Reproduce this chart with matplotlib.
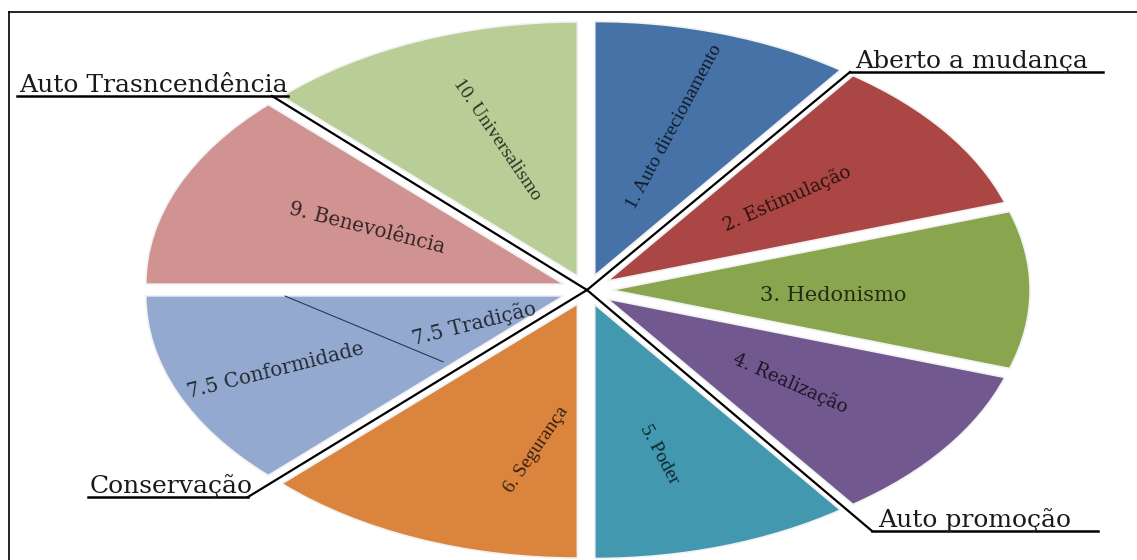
import numpy as np
import matplotlib.pyplot as plt
from matplotlib.colors import to_rgb

# slices, clockwise from 12 o'clock
labels = ["1. Auto direcionamento", "2. Estimulação", "3. Hedonismo",
          "4. Realização", "5. Poder", "6. Segurança", "7.5 Conformidade",
          "9. Benevolência", "10. Universalismo"]
shares = [36, 36, 36, 36, 36, 45, 45, 45, 45]  # degrees of the circle
colors = ["#4672A8", "#AA4643", "#89A54E", "#71588F", "#4198AF",
          "#DB843D", "#93A9CF", "#D19392", "#B9CD96"]
inner_label = "7.5 Tradição"  # inner part of the 7.5 slice

groups = ["Auto Trasncendência", "Aberto a mudança", "Conservação", "Auto promoção"]

W, H = 1137, 560
cx, cy = 587, 290      # pie centre, image pixels (y down)
rx, ry = 418, 254      # ellipse radii in pixels
k = ry / rx            # tilt of the pie

# label placement: (radius fraction, angle deg)
label_pos = [(0.675, 72), (0.60, 37), (0.59, -2), (0.61, -37), (0.67, -75),
             (0.64, -101), (0.81, -157), (0.58, 155), (0.63, 110)]
inner_pos = (0.30, -154)

# quadrant labels: text x, underline y, underline start, underline end, connector end
group_pos = [(19, 96, 17, 288, 272), (855, 72, 850, 1103, 850),
             (90, 497, 88, 248, 248), (878, 531, 872, 1098, 872)]


def dark(c, f=0.25):
    return tuple(v * f for v in to_rgb(c))


def tilt(mid):
    # screen angle and shrink of a radial text lying in the tilted pie plane
    t = np.deg2rad(mid)
    rot = np.degrees(np.arctan(k * np.tan(t)))
    shrink = np.sqrt(np.cos(t) ** 2 + (k * np.sin(t)) ** 2)
    return rot, shrink


def slice_text(x, y, s, mid, col):
    rot, shrink = tilt(mid)
    if shrink < 0.8:
        # steep labels look squeezed in the tilted pie: narrower face
        fam, fs = "Liberation Serif", 14
    else:
        fam, fs = "DejaVu Serif", 15 * shrink
    ax.text(x, y, s, rotation=rot, rotation_mode="anchor", ha="center",
            va="center", fontsize=fs, family=fam, color=dark(col))


fig = plt.figure(figsize=(W / 100, H / 100), dpi=100)

lim = 1.2
ax = fig.add_axes([(cx - lim * rx) / W, (H - cy - lim * ry) / H,
                   2 * lim * rx / W, 2 * lim * ry / H])
wedges, _ = ax.pie(shares, colors=colors, startangle=90, counterclock=False,
                   explode=[0.06] * len(shares),
                   wedgeprops=dict(edgecolor="#f2f2f2", linewidth=1.2))
ax.set_aspect("auto")
ax.set_xlim(-lim, lim)
ax.set_ylim(-lim, lim)
ax.axis("off")

for w, lab, col, (r, a) in zip(wedges, labels, colors, label_pos):
    t = np.deg2rad(a)
    slice_text(r * np.cos(t), r * np.sin(t), lab, (w.theta1 + w.theta2) / 2, col)

w = wedges[6]
r, a = inner_pos
t = np.deg2rad(a)
slice_text(r * np.cos(t), r * np.sin(t), inner_label, (w.theta1 + w.theta2) / 2,
           colors[6])

# thin split line inside the 7.5 slice
p1 = (-0.722, -0.024)
p2 = (-0.344, -0.283)
ax.plot([p1[0], p2[0]], [p1[1], p2[1]], color="#2b3a55", lw=0.8)

# overlay in pixel coordinates
ov = fig.add_axes([0, 0, 1, 1], facecolor="none")
ov.set_xlim(0, W)
ov.set_ylim(H, 0)
ov.axis("off")

# frame
ov.plot([9, W], [12, 12], color="black", lw=1.2)
ov.plot([9, 9], [12, H], color="black", lw=1.2)

for name, (tx, uy, u0, u1, ce) in zip(groups, group_pos):
    ov.text(tx, uy - 4, name, ha="left", va="baseline", fontsize=18,
            family="DejaVu Serif", color="#1a1a1a")
    ov.plot([u0, u1], [uy, uy], color="black", lw=1.8)
    ov.plot([ce, cx], [uy, cy], color="black", lw=1.6)

fig.savefig("out.png", dpi=100)
